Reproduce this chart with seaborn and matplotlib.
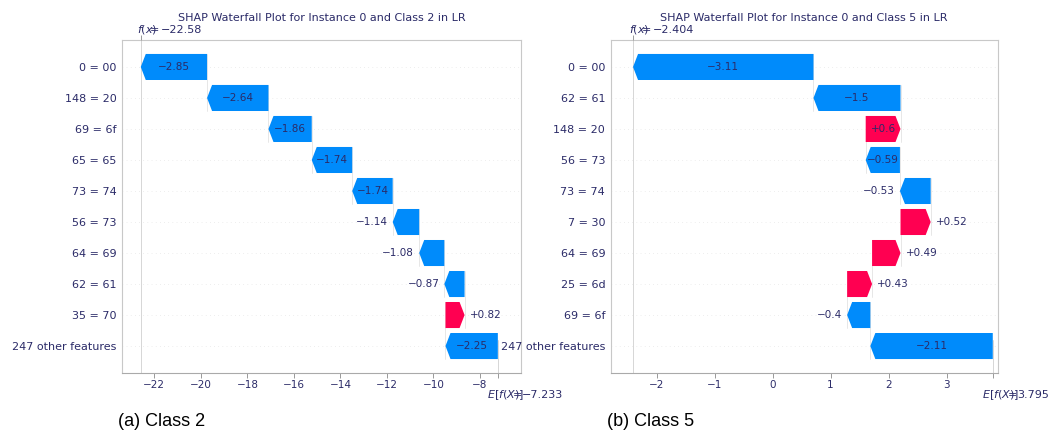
import numpy as np
import matplotlib
matplotlib.use("Agg")
import matplotlib.pyplot as plt
from matplotlib.patches import Polygon
import matplotlib.transforms as mtransforms
import seaborn as sns

# ---- Class 2 explanation (rows listed top to bottom) ----
features_c2 = ["0 = 00", "148 = 20", "69 = 6f", "65 = 65", "73 = 74",
               "56 = 73", "64 = 69", "62 = 61", "35 = 70", "247 other features"]
shap_c2 = [-2.85, -2.64, -1.86, -1.74, -1.74, -1.14, -1.08, -0.87, 0.82, -2.25]
base_c2 = -7.233
fx_c2 = -22.58
ticks_c2 = [-22, -20, -18, -16, -14, -12, -10, -8]
title_c2 = "SHAP Waterfall Plot for Instance 0 and Class 2 in LR"
caption_c2 = "(a) Class 2"

# ---- Class 5 explanation (rows listed top to bottom) ----
features_c5 = ["0 = 00", "62 = 61", "148 = 20", "56 = 73", "73 = 74",
               "7 = 30", "64 = 69", "25 = 6d", "69 = 6f", "247 other features"]
shap_c5 = [-3.11, -1.5, 0.6, -0.59, -0.53, 0.52, 0.49, 0.43, -0.4, -2.11]
base_c5 = 3.795
fx_c5 = -2.404
ticks_c5 = [-2, -1, 0, 1, 2, 3]
title_c5 = "SHAP Waterfall Plot for Instance 0 and Class 5 in LR"
caption_c5 = "(b) Class 5"

sns.set_theme(style="white")
plt.rcParams["font.family"] = ["DejaVu Sans"]

NAVY = "#2b2b68"
BLUE = "#008bfb"
RED = "#ff0051"
LIGHT = "#c8c8c8"

fig = plt.figure(figsize=(10.64, 4.32), dpi=100)
renderer = fig.canvas.get_renderer()


def fmt_short(v, spec):
    s = (spec % v).rstrip("0").rstrip(".")
    return s.replace("-", "\u2212")


def waterfall(ax, features, values, base, fx, ticks, xlim, title):
    values = np.asarray(values, dtype=float)
    n = len(features)
    rows = np.arange(n)[::-1]
    ends = base + np.cumsum(values[::-1])[::-1]
    starts = ends - values

    ax.set_xlim(*xlim)
    ax.set_ylim(-0.87, n - 1 + 0.87)
    px_per_unit = ax.get_window_extent(renderer).width / (xlim[1] - xlim[0])
    head = 5.0 / px_per_unit
    half = 0.42

    # faint row guides
    for y in rows:
        ax.axhline(y, color="#dddddd", lw=0.5, dashes=(1, 5), zorder=0)

    # reference lines for f(x) and the expected value
    ax.axvline(fx, 0, 1, color="#d0d0d0", lw=0.6, zorder=0)
    ax.axvline(base, 0, 1.0 / n, color="#d0d0d0", lw=0.6, zorder=0)

    # connectors between consecutive bars
    for k in range(n - 1):
        ax.plot([starts[k], starts[k]], [rows[k] + half, rows[k + 1] - half],
                color="#dddddd", lw=0.5, zorder=0)

    for k in range(n):
        v, s, e, y = values[k], starts[k], ends[k], rows[k]
        sign = 1.0 if v > 0 else -1.0
        neck = e - sign * min(abs(v), head)
        color = RED if v > 0 else BLUE
        poly = Polygon([(s, y - half), (neck, y - half), (e, y),
                        (neck, y + half), (s, y + half)],
                       closed=True, facecolor=color, edgecolor="none", zorder=2)
        ax.add_patch(poly)

        label = fmt_short(v, "%+0.2f")
        txt = ax.text((s + e) / 2, y, label, ha="center", va="center",
                      fontsize=7.5, color=NAVY, zorder=3)
        if txt.get_window_extent(renderer).width > abs(v) * px_per_unit:
            txt.remove()
            off = mtransforms.offset_copy(ax.transData, fig=fig,
                                          x=sign * 5, y=0, units="dots")
            ax.text(e, y, label, ha="left" if v > 0 else "right", va="center",
                    fontsize=7.5, color=NAVY, transform=off, zorder=3)

    ax.set_yticks(rows)
    ax.set_yticklabels(features)
    ax.set_xticks(ticks)
    ax.set_xticklabels([str(t).replace("-", "\u2212") for t in ticks])
    ax.set_xticks([base], minor=True)
    ax.tick_params(axis="y", length=0, pad=4, labelsize=8, labelcolor=NAVY)
    ax.tick_params(axis="x", which="both", bottom=True, length=3.5, width=0.7,
                   color="#999999", labelsize=7.5, labelcolor=NAVY, pad=1.5)
    ax.grid(False)

    for side in ("left", "top", "right"):
        ax.spines[side].set_color(LIGHT)
        ax.spines[side].set_linewidth(0.8)
    ax.spines["bottom"].set_color("#aaaaaa")
    ax.spines["bottom"].set_linewidth(0.8)

    # tick mark above the frame at f(x)
    top = ax.twiny()
    top.set_xlim(*xlim)
    top.set_xticks([fx])
    top.set_xticklabels([""])
    top.tick_params(axis="x", length=3.5, width=0.7, color="#999999")
    for sp in top.spines.values():
        sp.set_visible(False)

    # f(x) and E[f(X)] annotations
    def note(x, yfrac, dx, dy, s):
        tr = mtransforms.offset_copy(
            mtransforms.blended_transform_factory(ax.transData, ax.transAxes),
            fig=fig, x=dx, y=dy, units="dots")
        ax.text(x, yfrac, s, transform=tr, ha="left", va="center",
                fontsize=8, color=NAVY, clip_on=False)

    note(fx, 1.0, -4, 10, "$f(x)$")
    note(fx, 1.0, 9, 10, "=")
    note(fx, 1.0, 20, 10, fmt_short(fx, "%0.3f"))
    note(base, 0.0, -11, -22, "$E[f(X)]$")
    note(base, 0.0, 15, -22, "=")
    note(base, 0.0, 24, -22, fmt_short(base, "%0.3f"))

    ax.set_title(title, fontsize=8, color=NAVY, pad=14)


ax_a = fig.add_axes([122 / 1064, 59 / 432, 398.7 / 1064, 333 / 432])
ax_b = fig.add_axes([610.7 / 1064, 59 / 432, 387 / 1064, 333 / 432])

waterfall(ax_a, features_c2, shap_c2, base_c2, fx_c2, ticks_c2,
          (-23.39, -6.25), title_c2)
waterfall(ax_b, features_c5, shap_c5, base_c5, fx_c5, ticks_c5,
          (-2.79, 3.88), title_c5)

cap_font = ["Liberation Sans", "DejaVu Sans"]
fig.text(118 / 1064, 1 - 422 / 432, caption_c2, fontsize=13, color="black",
         family=cap_font, va="center", ha="left")
fig.text(607 / 1064, 1 - 422 / 432, caption_c5, fontsize=13, color="black",
         family=cap_font, va="center", ha="left")

fig.savefig("out.png", dpi=100, facecolor="white")
